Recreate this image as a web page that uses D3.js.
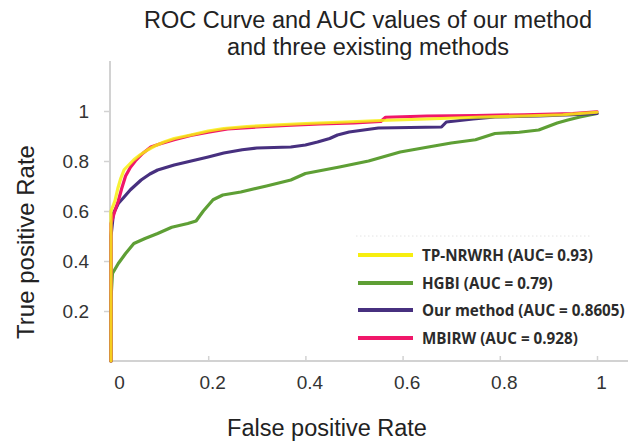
<!DOCTYPE html>
<html>
<head>
<meta charset="utf-8">
<script src="https://d3js.org/d3.v7.min.js"></script>
<style>
  html, body { margin: 0; padding: 0; background: #fff; }
  svg { display: block; }
</style>
</head>
<body>
<svg id="chart" width="638" height="445"></svg>
<script>
// ---- data ----
const seriesNames = ["TP-NRWRH (AUC= 0.93)", "HGBI (AUC = 0.79)", "Our method (AUC = 0.8605)", "MBIRW (AUC = 0.928)"];
const seriesColors = ["#f7ee10", "#5e9f35", "#47307f", "#f0176a"];

const xTicks = [0, 0.2, 0.4, 0.6, 0.8, 1];
const xTickLabels = ["0", "0.2", "0.4", "0.6", "0.8", "1"];
const yTicks = [0.2, 0.4, 0.6, 0.8, 1];
const yTickLabels = ["0.2", "0.4", "0.6", "0.8", "1"];

const tpNrwrh = [[0,0],[0,0.6],[0.008,0.64],[0.014,0.69],[0.02,0.73],[0.027,0.765],[0.037,0.785],[0.047,0.805],[0.06,0.825],[0.076,0.845],[0.09,0.86],[0.109,0.876],[0.13,0.89],[0.164,0.904],[0.2,0.92],[0.232,0.93],[0.28,0.938],[0.335,0.944],[0.4,0.95],[0.47,0.955],[0.555,0.962],[0.65,0.968],[0.75,0.975],[0.85,0.98],[0.93,0.985],[1,0.995]];
const hgbi = [[0,0],[0,0.25],[0.003,0.35],[0.015,0.39],[0.03,0.43],[0.047,0.47],[0.07,0.49],[0.096,0.51],[0.125,0.535],[0.158,0.55],[0.175,0.56],[0.19,0.6],[0.21,0.645],[0.23,0.664],[0.267,0.676],[0.32,0.7],[0.37,0.724],[0.4,0.75],[0.47,0.776],[0.53,0.8],[0.595,0.836],[0.65,0.855],[0.7,0.872],[0.75,0.885],[0.79,0.91],[0.84,0.915],[0.88,0.924],[0.918,0.952],[0.94,0.964],[0.965,0.976],[1,0.99]];
const ourMethod = [[0,0],[0,0.5],[0.005,0.59],[0.015,0.63],[0.027,0.656],[0.04,0.685],[0.062,0.724],[0.08,0.748],[0.096,0.764],[0.13,0.784],[0.165,0.8],[0.2,0.816],[0.232,0.832],[0.27,0.845],[0.3,0.852],[0.37,0.856],[0.4,0.864],[0.425,0.876],[0.45,0.89],[0.466,0.904],[0.49,0.916],[0.55,0.932],[0.68,0.936],[0.69,0.956],[0.745,0.968],[0.79,0.976],[0.88,0.98],[0.95,0.985],[1,0.99]];
const mbirw = [[0,0],[0,0.55],[0.008,0.6],[0.015,0.64],[0.022,0.69],[0.03,0.74],[0.04,0.775],[0.05,0.8],[0.065,0.83],[0.082,0.856],[0.1,0.868],[0.13,0.885],[0.164,0.902],[0.2,0.915],[0.24,0.928],[0.3,0.936],[0.36,0.942],[0.43,0.948],[0.5,0.952],[0.555,0.958],[0.565,0.975],[0.65,0.98],[0.75,0.982],[0.85,0.985],[0.95,0.99],[1,0.997]];

const seriesData = [tpNrwrh, hgbi, ourMethod, mbirw];

// ---- layout ----
const svg = d3.select("#chart");
const x = d3.scaleLinear().domain([0, 1]).range([111, 597]);
const y = d3.scaleLinear().domain([0, 1.2]).range([361, 61]);

const axisColor = "#d2d2d2";
const textColor = "#333";
const sans = "Liberation Sans, Arial, sans-serif";

// title
svg.append("text").attr("x", 368).attr("y", 28).attr("text-anchor", "middle")
  .attr("font-family", sans).attr("font-size", 23.5).attr("fill", "#222")
  .text("ROC Curve and AUC values of our method");
svg.append("text").attr("x", 368).attr("y", 55).attr("text-anchor", "middle")
  .attr("font-family", sans).attr("font-size", 23.5).attr("fill", "#222")
  .text("and three existing methods");

// y axis
const yAxis = d3.axisLeft(y).tickValues(yTicks).tickFormat((d, i) => yTickLabels[i]).tickSize(6).tickPadding(15);
const gy = svg.append("g").attr("transform", `translate(${x(0) - 1},0)`).call(yAxis);
gy.select(".domain").attr("stroke", axisColor).attr("stroke-width", 2).attr("d", `M0,${y(0)}V${y(1.2)}`);
gy.selectAll(".tick line").attr("stroke", axisColor).attr("stroke-width", 1.5);
gy.selectAll(".tick text").attr("font-family", sans).attr("font-size", 19).attr("fill", textColor);

// x axis
const xAxis = d3.axisBottom(x).tickValues(xTicks).tickFormat((d, i) => xTickLabels[i]).tickSize(-5).tickPadding(15);
const gx = svg.append("g").attr("transform", `translate(0,${y(0)})`).call(xAxis);
gx.select(".domain").attr("stroke", axisColor).attr("stroke-width", 2).attr("d", `M${x(0) - 2},0H628`);
gx.selectAll(".tick line").attr("stroke", axisColor).attr("stroke-width", 1.5);
gx.selectAll(".tick text").attr("font-family", sans).attr("font-size", 19).attr("fill", textColor)
  .attr("dx", (d, i) => i === 0 ? 8 : 4);

// axis titles
svg.append("text").attr("x", 327).attr("y", 436).attr("text-anchor", "middle")
  .attr("font-family", sans).attr("font-size", 23.5).attr("fill", "#222")
  .text("False positive Rate");
svg.append("text").attr("transform", "translate(34,242) rotate(-90)").attr("text-anchor", "middle")
  .attr("font-family", sans).attr("font-size", 24).attr("fill", "#222")
  .text("True positive Rate");

// curves
const line = d3.line().x(d => x(d[0])).y(d => y(d[1])).curve(d3.curveLinear);
const drawOrder = [1, 2, 3, 0];
drawOrder.forEach(i => {
  svg.append("path").datum(seriesData[i]).attr("d", line)
    .attr("fill", "none").attr("stroke", seriesColors[i]).attr("stroke-width", 3.2)
    .attr("stroke-linejoin", "round").attr("stroke-linecap", "round")
    .attr("opacity", i === 0 ? 0.85 : 1);
});

// legend
const legendY = [255, 283, 310, 338];
const lg = svg.append("g");
lg.append("line").attr("x1", 356).attr("x2", 592).attr("y1", 236).attr("y2", 236)
  .attr("stroke", "#e4e4e4").attr("stroke-dasharray", "1.5,2.5");
seriesNames.forEach((name, i) => {
  lg.append("line").attr("x1", 358).attr("x2", 413).attr("y1", legendY[i]).attr("y2", legendY[i])
    .attr("stroke", seriesColors[i]).attr("stroke-width", 4);
  lg.append("text").attr("x", 422).attr("y", legendY[i] + 5.5)
    .attr("font-family", "Open Sans, sans-serif").attr("font-weight", "bold").attr("font-size", 15.2)
    .attr("fill", "#2b2b2b").text(name);
});
</script>
</body>
</html>
